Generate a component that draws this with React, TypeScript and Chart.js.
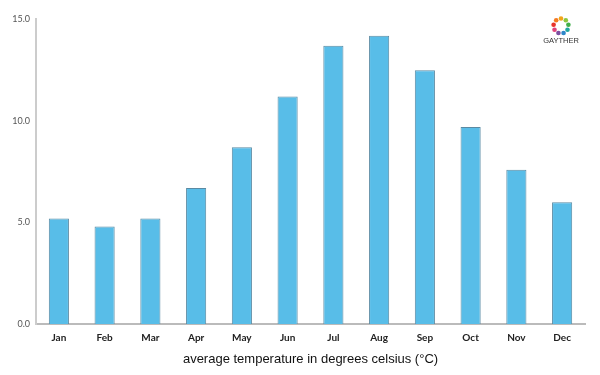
import React, { useEffect, useRef } from "react";
import { Chart, registerables } from "chart.js";

Chart.register(...registerables);

const months = ["Jan", "Feb", "Mar", "Apr", "May", "Jun", "Jul", "Aug", "Sep", "Oct", "Nov", "Dec"];
const avgTemp = [5.2, 4.8, 5.2, 6.7, 8.7, 11.2, 13.7, 14.2, 12.5, 9.7, 7.6, 6.0];
const axisTitle = "average temperature in degrees celsius (°C)";
const logoText = "GAYTHER";
const logoColors = ["#f2a51a", "#8cc63f", "#3fae49", "#1fa5a0", "#2e86c9", "#7b4fa0", "#e0427a", "#e8332b", "#f47a20"];

const logoPlugin = {
  id: "logo",
  afterDraw(chart: any) {
    const ctx = chart.ctx;
    const cx = 553;
    const cy = 18;
    const r = 7.5;
    ctx.save();
    logoColors.forEach((c, i) => {
      const a = (i / logoColors.length) * Math.PI * 2 - Math.PI / 2;
      ctx.fillStyle = c;
      ctx.beginPath();
      ctx.arc(cx + Math.cos(a) * r, cy + Math.sin(a) * r, 2.3, 0, Math.PI * 2);
      ctx.fill();
    });
    ctx.fillStyle = "#333";
    ctx.font = "7.5px 'Liberation Sans'";
    ctx.textAlign = "center";
    ctx.textBaseline = "middle";
    ctx.fillText(logoText, cx, 33);
    ctx.restore();
  },
};

export default function App() {
  const ref = useRef<HTMLCanvasElement>(null);
  useEffect(() => {
    if (!ref.current) return;
    const chart = new Chart(ref.current, {
      type: "bar",
      data: {
        labels: months,
        datasets: [
          {
            data: avgTemp,
            backgroundColor: "#58bde8",
            borderColor: "#5a8aa3",
            borderWidth: 1,
            barPercentage: 0.44,
            categoryPercentage: 1,
          },
        ],
      },
      options: {
        animation: false,
        responsive: false,
        layout: { padding: { top: 7, right: 7, left: 0, bottom: 0 } },
        plugins: { legend: { display: false }, tooltip: { enabled: false } },
        scales: {
          x: {
            grid: { display: false, drawTicks: false },
            border: { color: "#bbbbbb", width: 2 },
            ticks: { color: "#222", font: { family: "Lato", size: 10, weight: "bold" }, padding: 8 },
            title: {
              display: true,
              text: axisTitle,
              color: "#111",
              font: { family: "Liberation Sans", size: 13 },
              padding: { top: 10, bottom: 0 },
            },
            afterFit(scale: any) {
              scale.height = 43;
            },
          },
          y: {
            min: 0,
            max: 15,
            grid: { display: false, drawTicks: false },
            border: { color: "#cccccc", width: 2 },
            ticks: {
              stepSize: 5,
              color: "#555",
              font: { family: "Lato", size: 9 },
              padding: 6,
              callback: (v: any) => Number(v).toFixed(1),
            },
            afterFit(scale: any) {
              scale.width = 28;
            },
          },
        },
      },
      plugins: [logoPlugin],
    });
    return () => chart.destroy();
  }, []);
  return (
    <div style={{ width: 584, height: 359 }}>
      <canvas ref={ref} width={584} height={359} />
    </div>
  );
}
